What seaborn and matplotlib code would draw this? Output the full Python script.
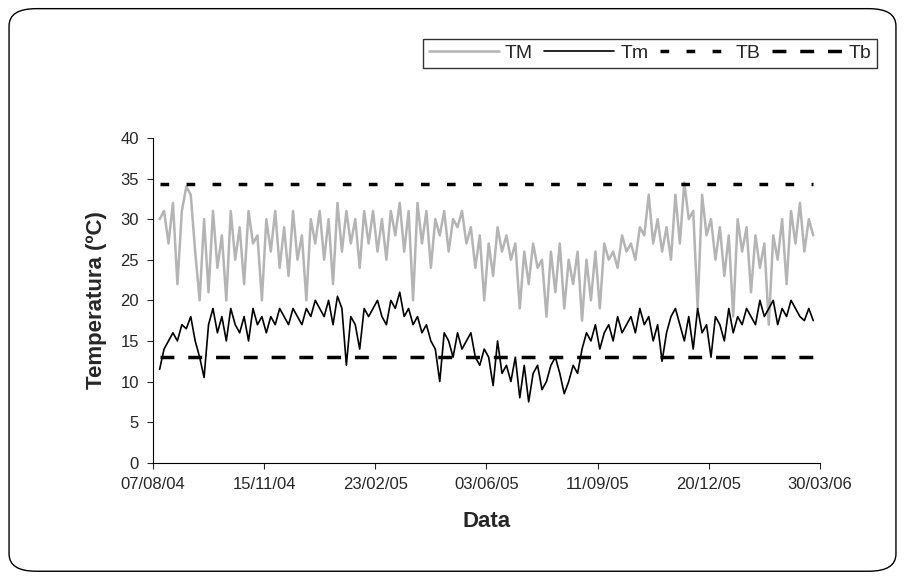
import matplotlib
matplotlib.use("Agg")
import matplotlib.pyplot as plt
import matplotlib.dates as mdates
import seaborn as sns
import pandas as pd
import numpy as np

start_date = "2004-08-13"
step_days = 4
TM = [30,31,27,32,22,31,34,33,26,20,30,21,31,24,28,20,31,25,29,22,31,27,28,20,30,26,31,24,29,23,31,25,28,20,30,27,31,25,30,22,32,26,31,27,30,24,31,27,31,26,30,25,31,28,32,26,31,20,32,27,31,24,30,28,31,26,30,29,31,27,29,24,28,20,27,23,29,26,28,25,27,19,26,22,27,24,25,18,26,21,27,19,25,22,26,17.5,25,20,26,19,27,25,26,24,28,26,27,25,29,28,33,27,30,26,29,25,33,27,34.5,30,31,19,33,28,30,25,29,23,28,18,30,26,29,21,28,24,27,17,28,25,30,22,31,27,32,26,30,28,31,26,32,28,33,27,35.5,29,33,25,32,27,31,28,33,26,30,27,32,28,31,24,29]
Tm = [11.5,14,15,16,15,17,16.5,18,15,13,10.5,17,19,16,18,15,19,17,16,18,15,19,17,18,16,18,17,19,18,17,19,18,17,19,18,20,19,18,20,17,20.5,19,12,18,17,14,19,18,19,20,18,17,20,19,21,18,19,17,18,16,17,15,14,10,16,15,13,16,14,15,16,13,12,14,13,9.5,15,11,12,10,13,8,12,7.5,11,12,9,10,12,13,11,8.5,10,12,11,14,16,15,17,14,16,17,15,18,16,17,18,16,19,17,18,15,17,12.5,16,18,19,17,15,18,14,19,16,17,13,18,17,15,19,16,18,17,19,18,17,20,18,19,20,17,19,18,20,19,18,17.5,19,17.5]
n = min(len(TM), len(Tm))
TM = TM[:n]; Tm = Tm[:n]
TB_value = 34.3
Tb_value = 13.0
dates = pd.date_range(start_date, periods=n, freq=f"{step_days}D")
df = pd.DataFrame({"Data": dates, "TM": TM, "Tm": Tm})

sns.set_style("white")
plt.rcParams['font.family'] = ['Liberation Sans', 'DejaVu Sans']
fig = plt.figure(figsize=(9.05, 5.77), dpi=100)
ax = fig.add_axes([0.169, 0.198, 0.737, 0.563])
sns.lineplot(data=df, x="Data", y="TM", ax=ax, color="#b4b4b4", lw=1.8, label="TM")
sns.lineplot(data=df, x="Data", y="Tm", ax=ax, color="black", lw=1.2, label="Tm")
ax.plot([dates[0], dates[-1]], [TB_value]*2, color="black", lw=2.5, ls=(0, (2.5, 5)), label="TB")
ax.plot([dates[0], dates[-1]], [Tb_value]*2, color="black", lw=2.5, ls=(0, (4, 4)), label="Tb")

x0 = pd.Timestamp("2004-08-07")
ax.set_xlim(x0, pd.Timestamp("2006-03-30"))
ticks = [x0 + pd.Timedelta(days=100*i) for i in range(7)]
ax.set_xticks(ticks)
ax.xaxis.set_major_formatter(mdates.DateFormatter("%d/%m/%y"))
ax.set_ylim(0, 40)
ax.set_yticks(range(0, 41, 5))
ax.tick_params(labelsize=12, direction="out", length=4, pad=6, left=True, bottom=True)
for s in ["top", "right"]:
    ax.spines[s].set_visible(False)
ax.spines["left"].set_color("black"); ax.spines["bottom"].set_color("black")
ax.set_xlabel("Data", fontsize=16, fontweight="bold", labelpad=14)
ax.set_ylabel("Temperatura (ºC)", fontsize=16, fontweight="bold", labelpad=10)
leg = ax.legend(ncol=4, loc="upper right", bbox_to_anchor=(1.1, 1.335), frameon=True,
                fancybox=False, edgecolor="black", fontsize=14, handlelength=3.6,
                columnspacing=0.6, handletextpad=0.3, borderpad=0.3)
fig.patches.append(matplotlib.patches.FancyBboxPatch((0.01, 0.01), 0.98, 0.975,
    boxstyle="round,pad=0,rounding_size=0.03", transform=fig.transFigure,
    fill=False, edgecolor="black", lw=1))
fig.savefig("out.png", dpi=100)
